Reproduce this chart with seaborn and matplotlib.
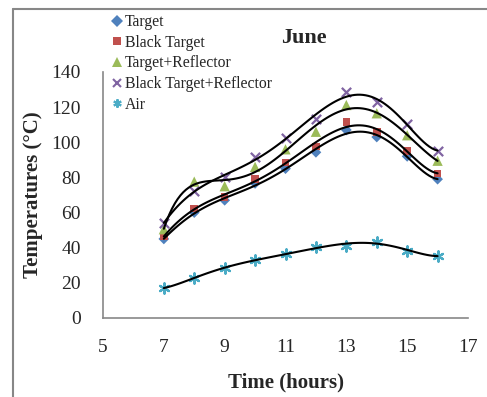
import numpy as np
import pandas as pd
import matplotlib
matplotlib.use('Agg')
import matplotlib.pyplot as plt
from matplotlib.lines import Line2D
import seaborn as sns

# Data
hours = [7, 8, 9, 10, 11, 12, 13, 14, 15, 16]
target = [45, 60, 67, 76.6, 85, 94.3, 107, 103, 92, 79]
black_target = [46.3, 62.4, 69, 79, 88.6, 97.5, 111.4, 106, 95.2, 82.3]
target_reflector = [50.5, 77.6, 75, 86, 96, 106, 121.2, 116.5, 104, 89.5]
black_target_reflector = [54, 72.5, 80, 91.4, 102.3, 113.3, 128.8, 123, 110.4, 95.2]
air = [17, 23, 28.3, 33, 36.4, 40.2, 41.2, 43.4, 38.3, 35.3]

series_names = ['Target', 'Black Target', 'Target+Reflector', 'Black Target+Reflector', 'Air']
series_vals = [target, black_target, target_reflector, black_target_reflector, air]
colors = ['#4F81BD', '#C0504D', '#9BBB59', '#8064A2', '#4BACC6']
markers = ['D', 's', '^', 'x', (6, 2, 0)]
sizes = [30, 30, 55, 45, 55]

sns.set_style('white')
plt.rcParams['font.family'] = ['Liberation Serif', 'DejaVu Serif']

fig = plt.figure(figsize=(4.87, 3.97), dpi=100)
ax = fig.add_axes([103 / 487, 1 - 318 / 397, (468 - 103) / 487, (318 - 72) / 397])

for name, vals, c, m, s in zip(series_names, series_vals, colors, markers, sizes):
    df = pd.DataFrame({'hour': hours, 'temp': vals})
    lw = 1.6 if m in ('x', (6, 2, 0)) else 0
    sns.scatterplot(data=df, x='hour', y='temp', ax=ax, color=c, marker=m, s=s,
                    linewidth=lw, edgecolor=c if lw else 'none', zorder=2)
    # 6th order polynomial trendline, like the Excel one
    sns.regplot(data=df, x='hour', y='temp', ax=ax, order=6, scatter=False, ci=None,
                truncate=True, line_kws={'color': 'black', 'lw': 1.5, 'zorder': 3})

ax.set_xlim(5, 17)
ax.set_ylim(0, 140)
ax.set_xticks(range(5, 18, 2))
ax.set_yticks(range(0, 141, 20))
ax.tick_params(axis='both', length=0, labelsize=14)
ax.tick_params(axis='y', pad=16)
ax.tick_params(axis='x', pad=15)
for side in ['top', 'right']:
    ax.spines[side].set_visible(False)
for side in ['left', 'bottom']:
    ax.spines[side].set_color('#878787')
    ax.spines[side].set_linewidth(1.2)
ax.set_xlabel('Time (hours)', fontsize=15, fontweight='bold', labelpad=12)
ax.set_ylabel('Temperatures (°C)', fontsize=15, fontweight='bold', labelpad=6)

fig.text(304 / 487, 1 - 38 / 397, 'June', fontsize=16, fontweight='bold', ha='center', va='center')

handles = [Line2D([], [], linestyle='none', marker=m, color=c, markersize=6 if m != '^' else 7,
                  markeredgewidth=1.5 if m in ('x', (6, 2, 0)) else 0)
           for m, c in zip(markers, colors)]
fig.legend(handles, series_names, loc='upper left', bbox_to_anchor=(112 / 487, 1 - 14 / 397),
           frameon=False, fontsize=11.3, handlelength=0.6, handletextpad=0.2,
           labelspacing=0.3, borderaxespad=0, borderpad=0)

# outer chart border (left and top visible)
fig.add_artist(Line2D([13 / 487, 13 / 487], [0, 1 - 9 / 397], color='#878787', lw=1.5))
fig.add_artist(Line2D([13 / 487, 1], [1 - 9 / 397, 1 - 9 / 397], color='#878787', lw=1.5))

fig.savefig('out.png', dpi=100)
